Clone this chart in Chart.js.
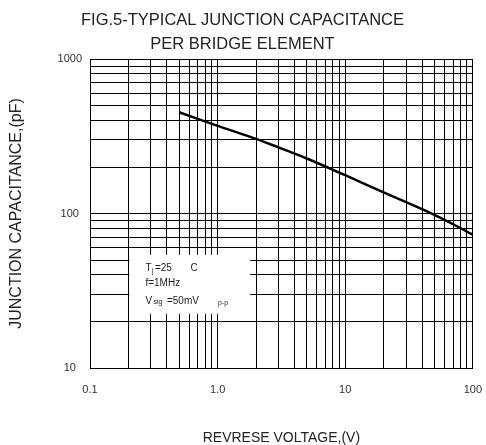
<!DOCTYPE html>
<html>
<head>
<meta charset="utf-8">
<script src="https://cdn.jsdelivr.net/npm/chart.js@4/dist/chart.umd.min.js"></script>
<style>
  html, body { margin: 0; padding: 0; background: #fff; }
  #wrap { width: 486px; height: 445px; }
</style>
</head>
<body>
<div id="wrap"><canvas id="capChart" width="486" height="445"></canvas></div>
<script>
// Junction capacitance vs reverse voltage
const voltage = [0.5, 1, 2, 3, 5, 10, 20, 50, 100];
const capacitance = [452, 369, 304, 268, 227, 177, 137, 98, 73];

// decade ticks and their labels
const xDecades = [0.1, 1, 10, 100];
const xDecadeLabels = ['0.1', '1.0', '10', '100'];
const yDecades = [10, 100, 1000];
const yDecadeLabels = ['10', '100', '1000'];

const FONT = "'Liberation Sans', Arial, sans-serif";

// 1..9 x every decade, for the log grid
function logGrid(decades) {
    const out = [];
    for (let i = 0; i < decades.length - 1; i++) {
        for (let m = 1; m <= 9; m++) out.push({ value: m * decades[i] });
    }
    out.push({ value: decades[decades.length - 1] });
    return out;
}

function decadeLabel(decades, labels, value) {
    const i = decades.findIndex(d => Math.abs(value - d) / d < 1e-6);
    return i >= 0 ? labels[i] : '';
}

// white box with the test conditions, drawn over the grid
const noteBox = {
    id: 'noteBox',
    beforeDatasetsDraw(chart) {
        const { ctx, scales: { x, y } } = chart;
        const left = x.getPixelForValue(0.2) + 1;
        const right = x.getPixelForValue(1.8);
        const top = y.getPixelForValue(54);
        const bottom = y.getPixelForValue(22.4);
        ctx.save();
        ctx.fillStyle = '#fff';
        ctx.fillRect(left, top, right - left, bottom - top);

        ctx.fillStyle = '#222';
        ctx.textBaseline = 'middle';
        ctx.textAlign = 'left';
        const tx = left + 16;
        ctx.font = '10px ' + FONT;
        ctx.fillText('T', tx, top + 13);
        ctx.font = '7px ' + FONT;
        ctx.fillText('j', tx + 6.5, top + 16);
        ctx.font = '10px ' + FONT;
        ctx.fillText('=25', tx + 9.5, top + 13);
        ctx.fillText('C', tx + 45, top + 13);
        ctx.fillText('f=1MHz', tx, top + 28);
        ctx.fillText('V', tx, top + 46);
        ctx.font = '7px ' + FONT;
        ctx.fillText('sig', tx + 8, top + 47.5);
        ctx.font = '10px ' + FONT;
        ctx.fillText('=50mV', tx + 21.5, top + 46);
        ctx.font = '7px ' + FONT;
        ctx.fillText('p-p', tx + 72.5, top + 48.5);
        ctx.restore();
    }
};

const capCtx = document.getElementById('capChart').getContext('2d');
const capChart = new Chart(capCtx, {
    type: 'line',
    data: {
        datasets: [{
            label: 'Junction capacitance',
            data: voltage.map((v, i) => ({ x: v, y: capacitance[i] })),
            borderColor: '#000',
            borderWidth: 2.5,
            pointRadius: 0,
            tension: 0.4,
            fill: false
        }]
    },
    options: {
        responsive: false,
        animation: false,
        layout: {
            padding: { left: 0, right: 1, top: 0, bottom: 0 }
        },
        plugins: {
            legend: { display: false },
            tooltip: { enabled: false },
            title: {
                display: true,
                text: ['FIG.5-TYPICAL JUNCTION CAPACITANCE', 'PER BRIDGE ELEMENT'],
                color: '#222',
                font: { family: FONT, size: 16.5, weight: 'normal', lineHeight: 1.44 },
                padding: { top: 9, bottom: 2.5 }
            }
        },
        scales: {
            x: {
                type: 'logarithmic',
                min: 0.1,
                max: 100,
                afterBuildTicks: scale => { scale.ticks = logGrid(xDecades); },
                afterFit: scale => { scale.height = 77; },
                // invisible tick marks just push the labels down
                grid: { color: '#000', lineWidth: 1, drawTicks: true, tickLength: 11, tickColor: 'rgba(0,0,0,0)' },
                border: { display: true, color: '#000', width: 1 },
                ticks: {
                    autoSkip: false,
                    maxRotation: 0,
                    minRotation: 0,
                    padding: 4,
                    color: '#333',
                    font: { family: FONT, size: 11 },
                    callback: value => decadeLabel(xDecades, xDecadeLabels, value)
                },
                title: {
                    display: true,
                    text: 'REVRESE VOLTAGE,(V)',
                    color: '#222',
                    font: { family: FONT, size: 14, lineHeight: 1 },
                    padding: { top: 0, bottom: 0 }
                }
            },
            y: {
                type: 'logarithmic',
                min: 10,
                max: 1000,
                afterBuildTicks: scale => { scale.ticks = logGrid(yDecades); },
                afterFit: scale => { scale.width = 90; },
                grid: { color: '#000', lineWidth: 1, drawTicks: false },
                border: { display: true, color: '#000', width: 1 },
                ticks: {
                    autoSkip: false,
                    crossAlign: 'center',
                    padding: 8,
                    color: '#333',
                    font: { family: FONT, size: 11 },
                    callback: value => decadeLabel(yDecades, yDecadeLabels, value)
                },
                title: {
                    display: true,
                    text: 'JUNCTION CAPACITANCE,(pF)',
                    color: '#222',
                    font: { family: FONT, size: 16, lineHeight: 1.2 },
                    padding: { top: 7, bottom: 0 }
                }
            }
        }
    },
    plugins: [noteBox]
});
</script>
</body>
</html>
